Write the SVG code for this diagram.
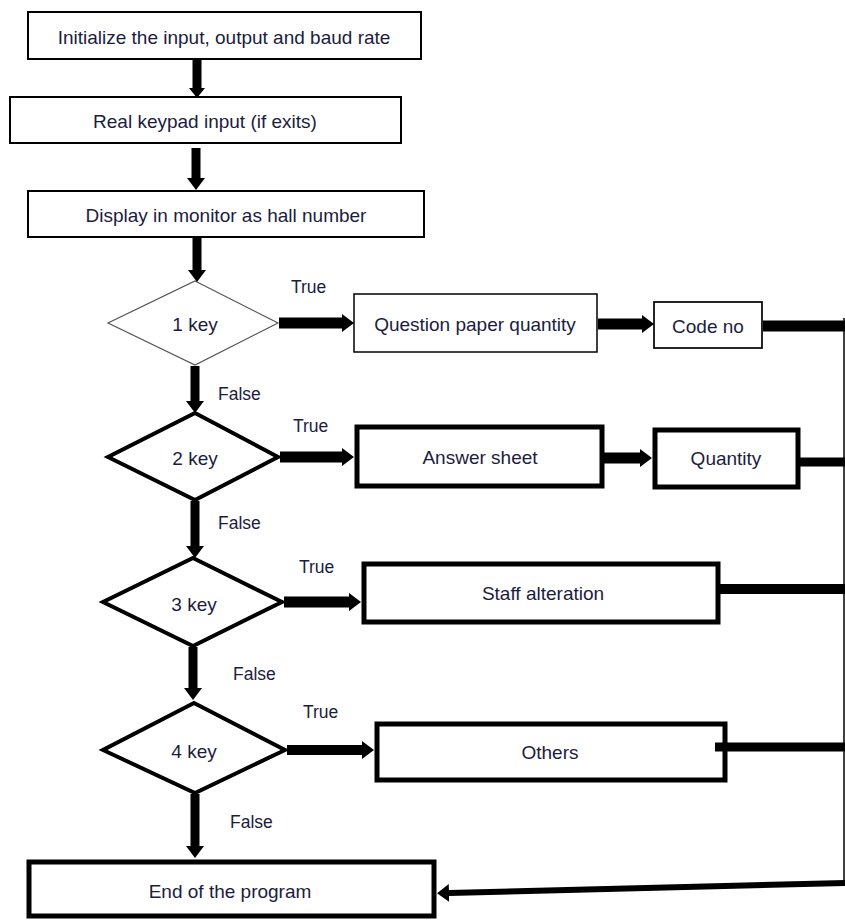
<svg xmlns="http://www.w3.org/2000/svg" width="845" height="920" viewBox="0 0 845 920">
<style>
.t{font-family:"Liberation Sans",Arial,sans-serif;font-size:19px;fill:#1c1c40;text-anchor:middle}
.l{font-family:"Liberation Sans",Arial,sans-serif;font-size:17.5px;fill:#1c1c40}
.thin{fill:#fff;stroke:#000;stroke-width:2}
.thick{fill:#fff;stroke:#000;stroke-width:5}
.dia{fill:#fff;stroke:#000;stroke-width:4;stroke-linejoin:miter}
.c{stroke:#000;fill:none}
</style>
<defs>
<marker id="ah" markerUnits="userSpaceOnUse" viewBox="0 0 12 18" refX="0" refY="9" markerWidth="12" markerHeight="18" orient="auto"><path d="M0,0 L12,9 L0,18 z" fill="#000"/></marker>
<marker id="ahs" markerUnits="userSpaceOnUse" viewBox="0 0 10 16" refX="0" refY="8" markerWidth="10" markerHeight="16" orient="auto"><path d="M0,0 L10,8 L0,16 z" fill="#000"/></marker>
</defs>
<rect width="845" height="920" fill="#fff"/>
<g id="n1"><rect class="thin" x="28" y="12" width="393" height="47"/><text class="t" x="224" y="44">Initialize the input, output and baud rate</text></g>
<g id="n2"><rect class="thin" x="10" y="97" width="391" height="46"/><text class="t" x="205" y="128">Real keypad input (if exits)</text></g>
<g id="n3"><rect class="thin" x="28" y="191" width="396" height="46"/><text class="t" x="226" y="222">Display in monitor as hall number</text></g>
<g id="d1"><polygon points="195,281 278,323 195,365 108,323" fill="#fff" stroke="#555" stroke-width="1.2"/><text class="t" x="195" y="331" font-size="18">1 key</text></g>
<g id="n4"><rect x="354" y="294" width="243" height="58" fill="#fff" stroke="#000" stroke-width="1.5"/><text class="t" x="475" y="331">Question paper quantity</text></g>
<g id="n5"><rect x="654" y="302" width="108" height="46" fill="#fff" stroke="#000" stroke-width="1.7"/><text class="t" x="708" y="333">Code no</text></g>
<g id="d2"><polygon class="dia" points="195,413 278,457 195,500 108,457"/><text class="t" x="195" y="465" font-size="18">2 key</text></g>
<g id="n6"><rect class="thick" x="357" y="427" width="245" height="59"/><text class="t" x="480" y="464">Answer sheet</text></g>
<g id="n7"><rect class="thick" x="655" y="430" width="143" height="57"/><text class="t" x="726" y="465">Quantity</text></g>
<g id="d3"><polygon class="dia" points="193,558 282,602 193,646 103,602"/><text class="t" x="194" y="611" font-size="18">3 key</text></g>
<g id="n8"><rect class="thick" x="364" y="564" width="354" height="58"/><text class="t" x="543" y="600">Staff alteration</text></g>
<g id="d4"><polygon class="dia" points="194,703 285,750 195,793 103,750"/><text class="t" x="194" y="758" font-size="18">4 key</text></g>
<g id="n9"><rect class="thick" x="377" y="724" width="348" height="56"/><text class="t" x="550" y="759">Others</text></g>
<g id="n10"><rect class="thick" x="29" y="862" width="405" height="54"/><text class="t" x="230" y="898">End of the program</text></g>
<g id="connectors">
<line class="c" x1="197" y1="60" x2="197" y2="88" stroke-width="9" marker-end="url(#ahs)"/>
<line class="c" x1="196" y1="148" x2="196" y2="178" stroke-width="9" marker-end="url(#ah)"/>
<line class="c" x1="197" y1="238" x2="197" y2="270" stroke-width="9" marker-end="url(#ah)"/>
<line class="c" x1="195" y1="366" x2="195" y2="401" stroke-width="9" marker-end="url(#ah)"/>
<line class="c" x1="195" y1="501" x2="195" y2="546" stroke-width="9" marker-end="url(#ah)"/>
<line class="c" x1="193" y1="647" x2="193" y2="688" stroke-width="9" marker-end="url(#ah)"/>
<line class="c" x1="195" y1="794" x2="195" y2="846" stroke-width="9" marker-end="url(#ah)"/>
<line class="c" x1="279" y1="323" x2="342" y2="323" stroke-width="11" marker-end="url(#ah)"/>
<line class="c" x1="598" y1="324" x2="642" y2="324" stroke-width="11" marker-end="url(#ah)"/>
<line class="c" x1="763" y1="326" x2="845" y2="326" stroke-width="11"/>
<line class="c" x1="280" y1="457" x2="342" y2="457" stroke-width="11" marker-end="url(#ah)"/>
<line class="c" x1="604" y1="458" x2="640" y2="458" stroke-width="11" marker-end="url(#ah)"/>
<line class="c" x1="800" y1="462" x2="845" y2="462" stroke-width="9"/>
<line class="c" x1="284" y1="602" x2="349" y2="602" stroke-width="11" marker-end="url(#ah)"/>
<line class="c" x1="720" y1="589" x2="845" y2="589" stroke-width="10"/>
<line class="c" x1="287" y1="750" x2="362" y2="750" stroke-width="10" marker-end="url(#ah)"/>
<line class="c" x1="715" y1="747" x2="845" y2="747" stroke-width="9"/>
<line class="c" x1="844" y1="318" x2="844" y2="886" stroke="#e2e2e2" stroke-width="1.5"/>
<line class="c" x1="845" y1="883" x2="449" y2="893" stroke-width="6" marker-end="url(#ah)"/>
</g>
<g id="labels">
<text class="l" x="291" y="293">True</text>
<text class="l" x="293" y="432">True</text>
<text class="l" x="299" y="573">True</text>
<text class="l" x="303" y="718">True</text>
<text class="l" x="218" y="400">False</text>
<text class="l" x="218" y="529">False</text>
<text class="l" x="233" y="680">False</text>
<text class="l" x="230" y="828">False</text>
</g>
</svg>
